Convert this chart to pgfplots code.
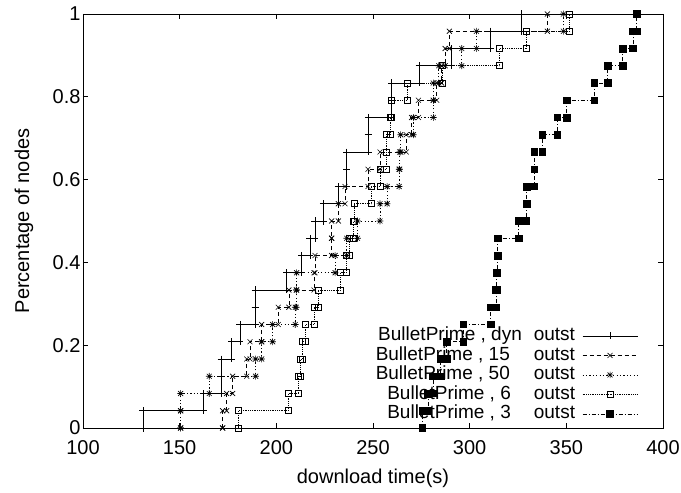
\documentclass[border=0pt]{standalone}
\usepackage{fontspec}
\setmainfont{Liberation Sans}
\usepackage{pgfplots}
\usepackage{pgfplotstable}
\pgfplotsset{compat=1.18}

\pgfdeclareplotmark{gpstar}{%
  \pgfpathmoveto{\pgfqpoint{-\pgfplotmarksize}{0pt}}\pgfpathlineto{\pgfqpoint{\pgfplotmarksize}{0pt}}%
  \pgfpathmoveto{\pgfqpoint{0pt}{-\pgfplotmarksize}}\pgfpathlineto{\pgfqpoint{0pt}{\pgfplotmarksize}}%
  \pgfpathmoveto{\pgfqpoint{-.75\pgfplotmarksize}{-.75\pgfplotmarksize}}\pgfpathlineto{\pgfqpoint{.75\pgfplotmarksize}{.75\pgfplotmarksize}}%
  \pgfpathmoveto{\pgfqpoint{-.75\pgfplotmarksize}{.75\pgfplotmarksize}}\pgfpathlineto{\pgfqpoint{.75\pgfplotmarksize}{-.75\pgfplotmarksize}}%
  \pgfusepathqstroke}

% x = download time of the n-th node (n = 0 repeats the first time)
\pgfplotstableread{
x n
131 0
131 1
162.2 2
171.4 3
171.4 4
176.9 5
181.2 6
189 7
189 8
205.4 9
213.1 10
217.4 11
220 12
224.3 13
232 14
236.4 15
236.4 16
247.6 17
247.6 18
259.7 19
259.7 20
273.8 21
290.7 22
310.6 23
326.9 24
}\dyn
\pgfplotstableread{
x n
172.2 0
172.2 1
174.3 2
177.4 3
184.7 4
186.4 5
192.4 6
201 7
206.5 8
219.5 9
220 10
228.6 11
228.6 12
232.1 13
235.5 14
247.4 15
253.6 16
267.2 17
270 18
273.5 19
283 20
285.5 21
287.3 22
289.5 23
340.2 24
}\fifteen
\pgfplotstableread{
x n
150.5 0
150.5 1
150.5 2
165.3 3
189.3 4
192.4 5
198.1 6
209.8 7
210.3 8
210.5 9
230.4 10
236.4 11
242 12
253.6 13
257.3 14
263.5 15
263.8 16
264.3 17
270.9 18
281.2 19
281.2 20
284 21
295.9 22
303.5 23
348.5 24
}\fifty
\pgfplotstableread{
x n
180.4 0
180.4 1
206 2
211.5 3
212.5 4
213.5 5
215 6
219.5 7
221.5 8
233 9
236 10
237.5 11
239.8 12
240.4 13
249 14
253.6 15
256.7 16
256.7 17
258.8 18
259.5 19
267.8 20
286 21
315.5 22
329.5 23
351.6 24
}\six
\pgfplotstableread{
x n
275.6 0
275.6 1
278.4 2
281 3
285 4
288.1 5
296.8 6
310.8 7
313.6 8
314 9
314.3 10
314.4 11
325.3 12
329.2 13
329.4 14
333.5 15
333.5 16
337.6 17
345.4 18
350.2 19
364.4 20
371.3 21
379.2 22
384.4 23
386.4 24
}\three

\begin{document}
\begin{tikzpicture}
\useasboundingbox (-83pt,-65pt) rectangle (598pt,428pt);
\begin{axis}[
  at={(0pt,0pt)}, anchor=south west,
  scale only axis, width=580pt, height=414pt,
  xmin=100, xmax=400, ymin=0, ymax=1,
  xtick={100,150,200,250,300,350,400},
  ytick={0,0.2,0.4,0.6,0.8,1},
  minor tick num=0,
  clip=false,
  tick align=inside, major tick length=5pt,
  axis line style={line width=0.8pt},
  every tick/.style={black, line width=0.8pt},
  /pgf/number format/assume math mode=true,
  yticklabel style={/pgf/number format/fixed, /pgf/number format/precision=1, xshift=1pt},
  every tick label/.append style={font=\fontsize{20}{23}\selectfont},
  xticklabel style={yshift=-9pt},
  xlabel={download time(s)},
  ylabel={Percentage of nodes},
  every axis label/.append style={font=\fontsize{20}{23}\selectfont},
  xlabel style={at={(axis description cs:0.5,-0.121)}, anchor=center},
  ylabel style={at={(axis description cs:-0.102,0.5)}, anchor=center},
  legend plot pos=right,
  legend cell align=right,
  legend image code/.code={\draw[mark repeat=2,mark phase=2,#1] plot coordinates {(0pt,0pt) (27.5pt,0pt) (55pt,0pt)};},
  legend style={draw=none, fill=none, at={(0.957,0.01)}, anchor=south east,
    font=\fontsize{19}{22}\selectfont, inner sep=0pt, row sep=0pt, column sep=6pt,
    nodes={inner sep=1.2pt, text height=13.6pt, text depth=3.5pt}},
]
% dyn outst
\addplot[black, line width=0.6pt, const plot, mark=+, mark size=3.5pt, mark options={solid}]
  table[x=x, y expr=\thisrow{n}/24] {\dyn};
\addlegendentry{BulletPrime , dyn\hspace{12pt}outst}
\addplot[black, line width=0.6pt, only marks, mark=+, mark size=3.5pt, forget plot, skip coords between index={0}{1}]
  table[x=x, y expr=\thisrow{n}/24-1/24] {\dyn};
% 15 outst
\addplot[black, line width=0.6pt, const plot, dash pattern=on 4pt off 3pt, mark=x, mark size=3.5pt, mark options={solid}]
  table[x=x, y expr=\thisrow{n}/24] {\fifteen};
\addlegendentry{BulletPrime , 15\hspace{24pt}outst}
\addplot[black, line width=0.6pt, only marks, mark=x, mark size=3.5pt, forget plot, skip coords between index={0}{1}]
  table[x=x, y expr=\thisrow{n}/24-1/24] {\fifteen};
% 50 outst
\addplot[black, line width=0.6pt, const plot, dash pattern=on 1.2pt off 2.2pt, mark=gpstar, mark size=3.3pt, mark options={solid}]
  table[x=x, y expr=\thisrow{n}/24] {\fifty};
\addlegendentry{BulletPrime , 50\hspace{24pt}outst}
\addplot[black, line width=0.6pt, only marks, mark=gpstar, mark size=3.3pt, forget plot, skip coords between index={0}{1}]
  table[x=x, y expr=\thisrow{n}/24-1/24] {\fifty};
% 6 outst
\addplot[black, line width=0.6pt, const plot, dash pattern=on 0.7pt off 1.1pt, mark=square, mark size=3pt, mark options={solid}]
  table[x=x, y expr=\thisrow{n}/24] {\six};
\addlegendentry{BulletPrime , 6\hspace{23pt}outst}
\addplot[black, line width=0.6pt, only marks, mark=square, mark size=3pt, forget plot, skip coords between index={0}{1}]
  table[x=x, y expr=\thisrow{n}/24-1/24] {\six};
% 3 outst
\addplot[black, line width=0.6pt, const plot, dash pattern=on 4pt off 2pt on 1pt off 2pt, mark=square*, mark size=3.3pt, mark options={solid, fill=black}]
  table[x=x, y expr=\thisrow{n}/24] {\three};
\addlegendentry{BulletPrime , 3\hspace{23pt}outst}
\addplot[black, line width=0.6pt, only marks, mark=square*, mark size=3.3pt, mark options={fill=black}, forget plot, skip coords between index={0}{1}]
  table[x=x, y expr=\thisrow{n}/24-1/24] {\three};
\end{axis}
\end{tikzpicture}
\end{document}
